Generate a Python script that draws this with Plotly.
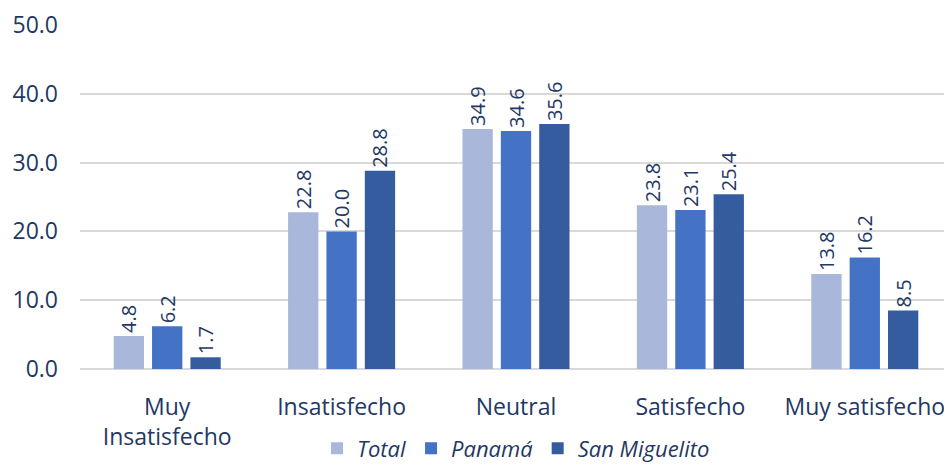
import plotly.graph_objects as go

categories = ["Muy<br>Insatisfecho", "Insatisfecho", "Neutral", "Satisfecho", "Muy satisfecho"]
total = [4.8, 22.8, 34.9, 23.8, 13.8]
panama = [6.2, 20.0, 34.6, 23.1, 16.2]
san_miguelito = [1.7, 28.8, 35.6, 25.4, 8.5]

series = [
    ("Total", total, "#A9B7DB"),
    ("Panamá", panama, "#4472C4"),
    ("San Miguelito", san_miguelito, "#355C9F"),
]

navy = "#1F3864"
font_family = "Open Sans, sans-serif"

fig = go.Figure()
for name, vals, color in series:
    fig.add_trace(go.Bar(
        x=categories,
        y=vals,
        name=name,
        marker=dict(color=color, line=dict(width=0)),
        text=[f"{v:.1f}" for v in vals],
        textposition="outside",
        textangle=-90,
        constraintext="none",
        textfont=dict(size=20, color=navy, family=font_family),
        cliponaxis=False,
    ))

# page body adds 8px offset, so margins are compensated
fig.update_layout(
    width=952,
    height=466,
    margin=dict(l=72, r=8, t=17, b=105, autoexpand=False),
    paper_bgcolor="white",
    plot_bgcolor="white",
    barmode="group",
    bargap=0.34,
    bargroupgap=0.21,
    font=dict(family=font_family, size=23, color=navy),
    showlegend=True,
    legend=dict(
        orientation="h",
        x=0.50,
        xanchor="center",
        yref="container",
        y=0.055,
        yanchor="middle",
        font=dict(size=22, color=navy, family=font_family, style="italic"),
        traceorder="normal",
    ),
)

fig.update_yaxes(
    range=[0, 50],
    dtick=10,
    tickformat=".1f",
    showgrid=True,
    gridcolor="#D9D9D9",
    gridwidth=2,
    zeroline=True,
    zerolinecolor="#D9D9D9",
    zerolinewidth=2,
    showline=False,
    ticks="",
    automargin=False,
    ticklabelstandoff=21,
    tickfont=dict(size=23, color=navy),
)
fig.update_xaxes(
    showline=False,
    ticks="",
    automargin=False,
    ticklabelstandoff=22,
    tickfont=dict(size=23, color=navy),
)

fig.write_html("out.html")
